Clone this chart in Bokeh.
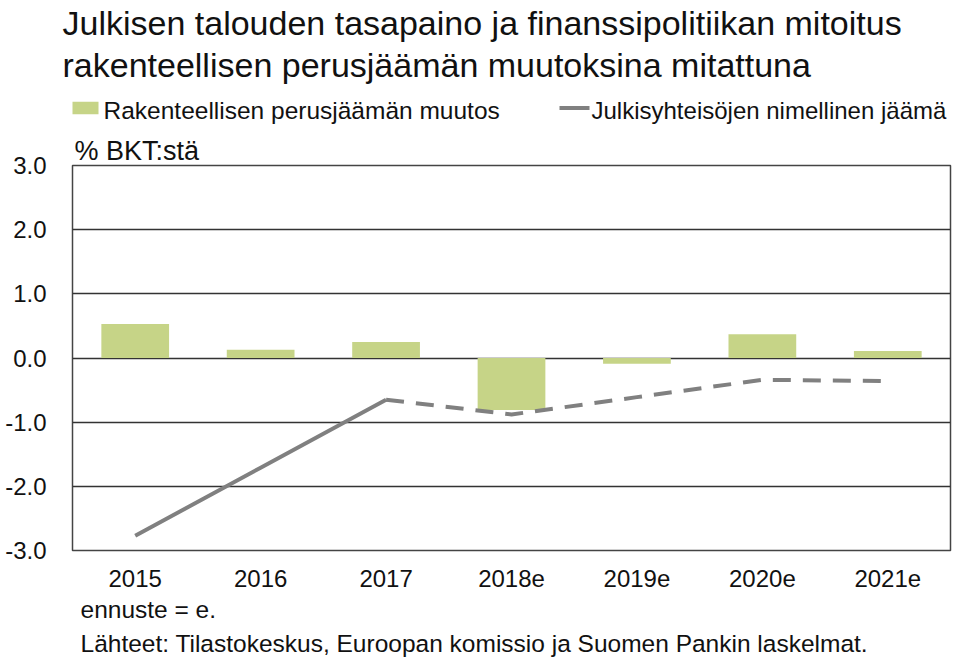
from bokeh.plotting import figure
from bokeh.layouts import column
from bokeh.models import (FactorRange, Range1d, Title, FixedTicker,
                          ColumnDataSource)
from bokeh.core.properties import value
from bokeh.embed import file_html
from bokeh.resources import INLINE

years = ["2015", "2016", "2017", "2018e", "2019e", "2020e", "2021e"]
structural_change = [0.53, 0.13, 0.25, -0.81, -0.09, 0.37, 0.11]
nominal_balance = [-2.77, -1.71, -0.65, -0.88, -0.61, -0.34, -0.36]
y_ticks = [-3, -2, -1, 0, 1, 2, 3]
y_tick_labels = ["-3.0", "-2.0", "-1.0", "0.0", "1.0", "2.0", "3.0"]

title1 = "Julkisen talouden tasapaino ja finanssipolitiikan mitoitus"
title2 = "rakenteellisen perusjäämän muutoksina mitattuna"
legend_bar = "Rakenteellisen perusjäämän muutos"
legend_line = "Julkisyhteisöjen nimellinen jäämä"
unit_label = "% BKT:stä"
note1 = "ennuste = e."
note2 = "Lähteet: Tilastokeskus, Euroopan komissio ja Suomen Pankin laskelmat."

FONT = "Liberation Sans"
BAR_COLOR = "#c6d487"
LINE_COLOR = "#808080"
TEXT_COLOR = "#111111"
HEADER_H = 130
LEFT, RIGHT = 72, 17


def make_title(txt, size, offset, standoff):
    return Title(text=txt, text_font=FONT, text_font_size=size,
                 text_color=TEXT_COLOR, text_font_style="normal",
                 align="left", offset=offset, standoff=standoff)


# ---------- header: title lines (as titles) and legend keys ----------
h = figure(width=967, height=HEADER_H, x_range=Range1d(72, 950),
           y_range=Range1d(HEADER_H, 86), output_backend="svg",
           toolbar_location=None, x_axis_location=None,
           y_axis_location=None, min_border_left=LEFT,
           min_border_right=RIGHT, min_border_top=0, min_border_bottom=0)
h.grid.visible = False
h.outline_line_color = None
h.background_fill_color = "white"
h.border_fill_color = "white"
h.add_layout(make_title(title2, "34px", -10, 2), "above")
h.add_layout(make_title(title1, "34px", -10, 2), "above")

h.rect(x=[83.5], y=[108.5], width=29, height=12, fill_color=BAR_COLOR,
       line_color=None)
h.segment(x0=[559], y0=[108.5], x1=[589], y1=[108.5], line_color=LINE_COLOR,
          line_width=4)
h.text(x=[103], y=[110.5], text=[legend_bar],
       text_font=value(FONT), text_font_size="24.5px", text_color=TEXT_COLOR,
       text_baseline="alphabetic", text_align="left")
h.text(x=[591], y=[110.5], text=[legend_line],
       text_font=value(FONT), text_font_size="24px", text_color=TEXT_COLOR,
       text_baseline="alphabetic", text_align="left")

# ---------- main chart ----------
p = figure(frame_width=878, frame_height=385, x_range=FactorRange(*years),
           y_range=Range1d(-3, 3), output_backend="svg",
           toolbar_location=None, min_border_left=LEFT,
           min_border_right=RIGHT, min_border_top=165 - HEADER_H,
           min_border_bottom=110)
p.x_range.range_padding = 0

bar_src = ColumnDataSource(dict(x=years, top=structural_change))
p.vbar(x="x", top="top", bottom=0, width=0.54, source=bar_src,
       fill_color=BAR_COLOR, line_color=None)

solid_src = ColumnDataSource(dict(x=years[:3], y=nominal_balance[:3]))
dash_src = ColumnDataSource(dict(x=years[2:], y=nominal_balance[2:]))
p.line(x="x", y="y", source=solid_src, line_color=LINE_COLOR, line_width=4)
p.line(x="x", y="y", source=dash_src, line_color=LINE_COLOR, line_width=4,
       line_dash="18 12")

p.yaxis.ticker = FixedTicker(ticks=y_ticks)
p.yaxis.major_label_overrides = {t: l for t, l in zip(y_ticks, y_tick_labels)}
for ax in (p.xaxis[0], p.yaxis[0]):
    ax.axis_line_color = None
    ax.major_tick_line_color = None
    ax.minor_tick_line_color = None
    ax.major_label_text_font = FONT
    ax.major_label_text_color = TEXT_COLOR
p.yaxis.major_label_text_font_size = "24px"
p.xaxis.major_label_text_font_size = "24px"
p.yaxis.major_label_standoff = 20
p.xaxis.major_label_standoff = 13

p.xgrid.grid_line_color = None
p.ygrid.grid_line_color = "#333333"
p.ygrid.grid_line_width = 1.3
p.outline_line_color = "#444444"
p.outline_line_width = 1.5
p.background_fill_color = "white"
p.border_fill_color = "white"

p.add_layout(make_title(unit_label, "27px", 2, 0), "above")
p.add_layout(make_title(note1, "24.5px", 8, 9), "below")
p.add_layout(make_title(note2, "24.5px", 8, 0), "below")

layout = column(h, p, spacing=0)
open("out.html", "w").write(file_html(layout, INLINE))
